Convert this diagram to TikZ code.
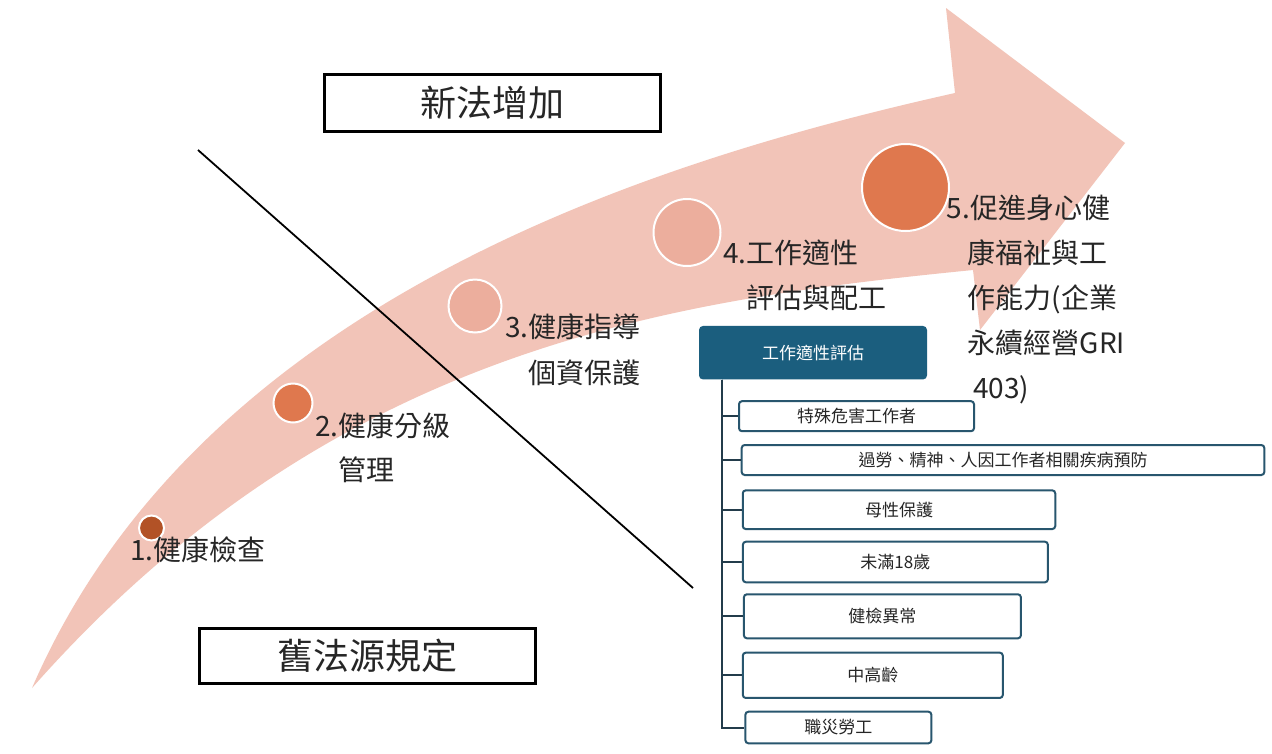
\documentclass[tikz,border=0pt]{standalone}
\usepackage{fontspec}
\setmainfont{Noto Sans CJK TC}
\definecolor{arrowpink}{RGB}{242,196,184}
\definecolor{dotdark}{RGB}{178,82,38}
\definecolor{dotorange}{RGB}{223,120,78}
\definecolor{dotlight}{RGB}{236,174,157}
\definecolor{hdrblue}{RGB}{27,94,126}
\definecolor{boxline}{RGB}{40,86,110}
\definecolor{connline}{RGB}{35,60,75}
\definecolor{txtgray}{RGB}{38,38,38}
\tikzset{
  dot/.style={circle, draw=white, line width=2pt, inner sep=0pt},
  lbl/.style={anchor=base west, inner sep=0pt, text=txtgray, font=\fontsize{28pt}{28pt}\selectfont},
  lawbox/.style={draw=black, line width=3pt, fill=white, inner sep=0pt, text=txtgray,
    minimum width=336pt, font=\fontsize{36pt}{36pt}\selectfont},
  hdrbox/.style={fill=hdrblue, rounded corners=4pt, inner sep=0pt, text=white,
    font=\fontsize{17pt}{17pt}\selectfont},
  leaf/.style={draw=boxline, line width=2pt, fill=white, rounded corners=3pt, inner sep=0pt,
    text=txtgray, font=\fontsize{17pt}{17pt}\selectfont},
  conn/.style={draw=connline, line width=2pt},
  divider/.style={draw=black, line width=1.8pt}
}
\begin{document}
\begin{tikzpicture}[x=1pt,y=-1pt]
\useasboundingbox (0,0) rectangle (1272,753);
\fill[white] (0,0) rectangle (1272,753);

% big curved arrow
\fill[arrowpink] (32,688) .. controls (200,300) and (655,160) .. (955,93)
  -- (946,8) -- (1125,143) -- (980,330) -- (973,270)
  .. controls (673,300) and (335,345) .. (32,688) -- cycle;

% divider line
\coordinate (dA) at (198,150);
\coordinate (dB) at (693,588);
\draw[divider] (dA) -- (dB);

% dots
\node[dot, fill=dotdark, minimum size=25pt] (c1) at (151.5,528) {};
\node[dot, fill=dotorange, minimum size=39pt] (c2) at (293,403) {};
\node[dot, fill=dotlight, minimum size=53pt] (c3) at (475,306) {};
\node[dot, fill=dotlight, minimum size=67pt] (c4) at (687,232.5) {};
\node[dot, fill=dotorange, minimum size=87pt] (c5) at (905.5,187.5) {};

% labels
\node[lbl] (l1) at (130,560) {1.健康檢查};
\node[lbl] (l2a) at (315,436) {2.健康分級};
\node[lbl] (l2b) at (338,480) {管理};
\node[lbl] (l3a) at (505,337) {3.健康指導};
\node[lbl] (l3b) at (528.5,383) {個資保護};
\node[lbl] (l4a) at (723,263) {4.工作適性};
\node[lbl] (l4b) at (746.5,308) {評估與配工};
\node[lbl] (l5a) at (946.5,218) {5.促進身心健};
\node[lbl] (l5b) at (967.5,263) {康福祉與工};
\node[lbl] (l5c) at (967.5,308) {作能力(企業};
\node[lbl] (l5d) at (967.5,353) {永續經營GRI};
\node[lbl] (l5e) at (973,398) {403)};

% law boxes
\node[lawbox, minimum height=57pt] (newlaw) at (492.8,102.7) {新法增加};
\node[lawbox, minimum height=55pt] (oldlaw) at (367.5,656) {舊法源規定};

% tree
\node[hdrbox, minimum width=228pt, minimum height=53.5pt] (hdr) at (813,352.7) {工作適性評估};
\node[leaf, minimum width=235pt, minimum height=30pt] (b1) at (856.5,416.2) {特殊危害工作者};
\node[leaf, minimum width=522.6pt, minimum height=30pt] (b2) at (1003,460) {過勞、精神、人因工作者相關疾病預防};
\node[leaf, minimum width=312.5pt, minimum height=38.7pt] (b3) at (899,509.7) {母性保護};
\node[leaf, minimum width=305pt, minimum height=40.6pt] (b4) at (895.4,562) {未滿18歲};
\node[leaf, minimum width=277pt, minimum height=44pt] (b5) at (882.4,616.3) {健檢異常};
\node[leaf, minimum width=260pt, minimum height=45.3pt] (b6) at (872.8,675.3) {中高齡};
\node[leaf, minimum width=186pt, minimum height=31.6pt] (b7) at (838.4,727.5) {職災勞工};

\coordinate (trunk) at ([xshift=23pt]hdr.south west);
\foreach \b in {b1,b2,b3,b4,b5,b6,b7}
  \draw[conn] (trunk) |- (\b.west);
\end{tikzpicture}
\end{document}
